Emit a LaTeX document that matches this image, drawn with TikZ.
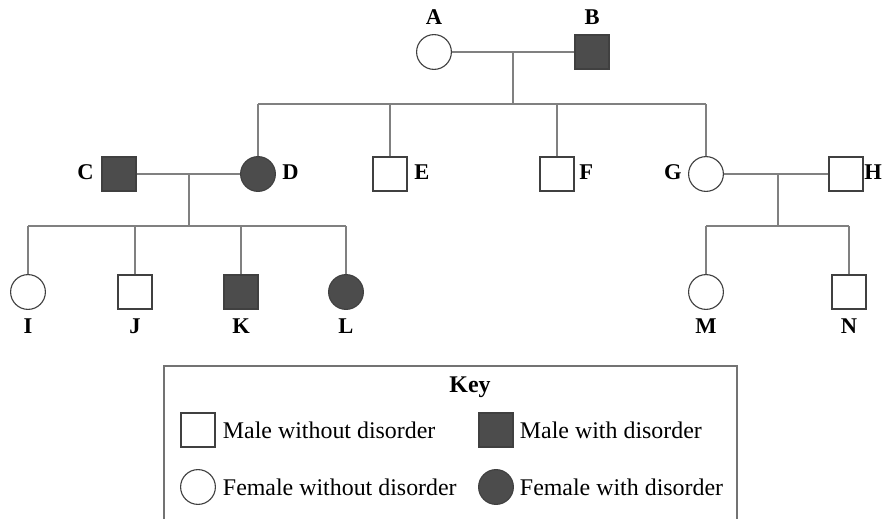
\documentclass[tikz,border=0pt]{standalone}
\usepackage{fontspec}
\setmainfont{Liberation Serif}
\begin{document}
\begin{tikzpicture}[x=0.025cm, y=-0.025cm,
  every node/.style={font=\fontsize{17}{20}\selectfont},
  male/.style={rectangle, draw=black!75, thick, fill=white, minimum size=0.85cm, inner sep=0pt},
  female/.style={circle, draw=black!75, thick, fill=white, minimum size=0.87cm, inner sep=0pt},
  affected/.style={fill=black!70},
  tag/.style={font=\fontsize{16}{18}\selectfont\bfseries, inner sep=0pt},
  link/.style={black!50, line width=0.8pt}]
  \useasboundingbox (0,0) rectangle (883,519);
  % first generation
  \node[female] (A) at (434,52) {};
  \node[male, affected] (B) at (592,52) {};
  \node[tag] (tA) at (434,17) {A};
  \node[tag] (tB) at (592,17) {B};
  % second generation
  \node[male, affected] (C) at (119,174) {};
  \node[female, affected] (D) at (258,174) {};
  \node[male] (E) at (390,174) {};
  \node[male] (F) at (557,174) {};
  \node[female] (G) at (706,174) {};
  \node[male] (H) at (846,174) {};
  \node[tag, anchor=east] (tC) at (94,172) {C};
  \node[tag, anchor=west] (tD) at (282,172) {D};
  \node[tag, anchor=west] (tE) at (414,172) {E};
  \node[tag, anchor=west] (tF) at (579,172) {F};
  \node[tag, anchor=east] (tG) at (682,172) {G};
  \node[tag, anchor=west] (tH) at (864,172) {H};
  % third generation
  \node[female] (I) at (28,292) {};
  \node[male] (J) at (135,292) {};
  \node[male, affected] (K) at (241,292) {};
  \node[female, affected] (L) at (346,292) {};
  \node[female] (M) at (706,292) {};
  \node[male] (N) at (849,292) {};
  \foreach \p in {I,J,K,L,M,N}
    \node[tag] (t\p) at ([yshift=-34*0.025cm]\p) {\p};
  % couples and offspring
  \coordinate (ab) at (513,52);
  \coordinate (abK) at (513,104);
  \coordinate (cd) at (189,174);
  \coordinate (cdK) at (189,226);
  \coordinate (gh) at (778,174);
  \coordinate (ghK) at (778,226);
  \draw[link] (A) -- (B);
  \draw[link] (ab) -- (abK);
  \draw[link] (D |- abK) -- (G |- abK);
  \foreach \p in {D,E,F,G}
    \draw[link] (\p) -- (\p |- abK);
  \draw[link] (C) -- (D);
  \draw[link] (cd) -- (cdK);
  \draw[link] (I |- cdK) -- (L |- cdK);
  \foreach \p in {I,J,K,L}
    \draw[link] (\p) -- (\p |- cdK);
  \draw[link] (G) -- (H);
  \draw[link] (gh) -- (ghK);
  \draw[link] (M |- ghK) -- (N |- ghK);
  \foreach \p in {M,N}
    \draw[link] (\p) -- (\p |- ghK);
  % key
  \draw[black!55, line width=0.8pt] (164,519) -- (164,366) -- (737,366) -- (737,519);
  \node[font=\fontsize{17}{20}\selectfont\bfseries] (key) at (470,387) {Key};
  \node[male] (k1) at (198,430) {};
  \node[male, affected] (k2) at (496,430) {};
  \node[female] (k3) at (198,487) {};
  \node[female, affected] (k4) at (496,487) {};
  \node[anchor=west] (k1t) at (218,430) {Male without disorder};
  \node[anchor=west] (k2t) at (515,430) {Male with disorder};
  \node[anchor=west] (k3t) at (218,487) {Female without disorder};
  \node[anchor=west] (k4t) at (515,487) {Female with disorder};
\end{tikzpicture}
\end{document}
